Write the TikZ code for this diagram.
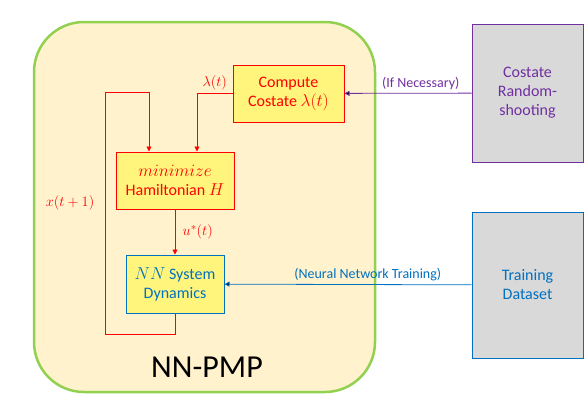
\documentclass[tikz,border=0pt]{standalone}
\usepackage{fontspec}
\setmainfont{Carlito}
\usetikzlibrary{positioning, arrows.meta}
\definecolor{pmpfill}{RGB}{255,242,204}
\definecolor{pmpgreen}{RGB}{146,208,80}
\definecolor{boxyellow}{RGB}{255,245,125}
\definecolor{nnblue}{RGB}{0,112,192}
\definecolor{rspurple}{RGB}{112,48,160}
\definecolor{datagray}{RGB}{217,217,217}

\begin{document}
\begin{tikzpicture}[x=1pt, y=-1pt, >={Triangle[length=5pt,width=5pt]}, font=\fontsize{16}{19}\selectfont,
    block/.style={draw, rectangle, fill=boxyellow, line width=1pt, align=center, inner sep=2pt},
    sidebox/.style={draw, rectangle, fill=datagray, line width=1pt, align=center, minimum width=111pt},
    tag/.style={font=\fontsize{14}{16}\selectfont},
    mathtag/.style={font=\fontsize{15}{17}\selectfont}]
    \useasboundingbox (0,0) rectangle (584,416);
    % NN-PMP frame
    \node[draw=pmpgreen, line width=2.5pt, fill=pmpfill, rounded corners=50pt, minimum width=341pt, minimum height=370pt] (pmp) at (204.5,207) {};
    \node[font=\fontsize{32}{36}\selectfont] (pmplabel) at (207,367) {NN-PMP};

    \node[block, draw=red, text=red, minimum width=111pt, minimum height=57pt] (cost) at (288.5,93.5) {Compute\\Costate $\lambda(t)$};
    \node[block, draw=red, text=red, minimum width=118pt, minimum height=57pt] (mini) at (175,180.5) {$minimize$\\Hamiltonian $H$};
    \node[block, draw=nnblue, text=nnblue, minimum width=98pt, minimum height=58pt] (nn) at (175,284) {$NN$ System\\Dynamics};

    \node[sidebox, draw=rspurple, text=rspurple, minimum height=138pt] (rs) at (527.5,93) {Costate\\Random-\\shooting};
    \node[sidebox, draw=nnblue, text=nnblue, minimum height=146pt] (data) at (527.5,285) {Training\\Dataset};

    % feedback loop
    \coordinate (loopbl) at (105,334);
    \coordinate (looptl) at (105,92);
    \draw[red, line width=0.8pt, ->] (nn.south) |- (loopbl) -- node[pos=0.54, left=7pt, mathtag, text=red] {$x(t+1)$} (looptl) -| ([xshift=-26pt]mini.north);
    \draw[red, line width=0.8pt, ->] (cost.west) -| node[pos=0.25, above, mathtag, text=red] {$\lambda(t)$} ([xshift=22pt]mini.north);
    \draw[red, line width=0.8pt, ->] (mini.south) -- node[right=4pt, mathtag, text=red] {$u^*(t)$} (nn.north);

    \path[->, draw=rspurple, line width=0.8pt] (rs) edge node[pos=0.4, above, tag, text=rspurple] {(If Necessary)} (cost);
    \path[->, draw=nnblue, line width=0.8pt] (data) edge node[pos=0.42, above, tag, text=nnblue] {(Neural Network Training)} (nn);
\end{tikzpicture}
\end{document}
